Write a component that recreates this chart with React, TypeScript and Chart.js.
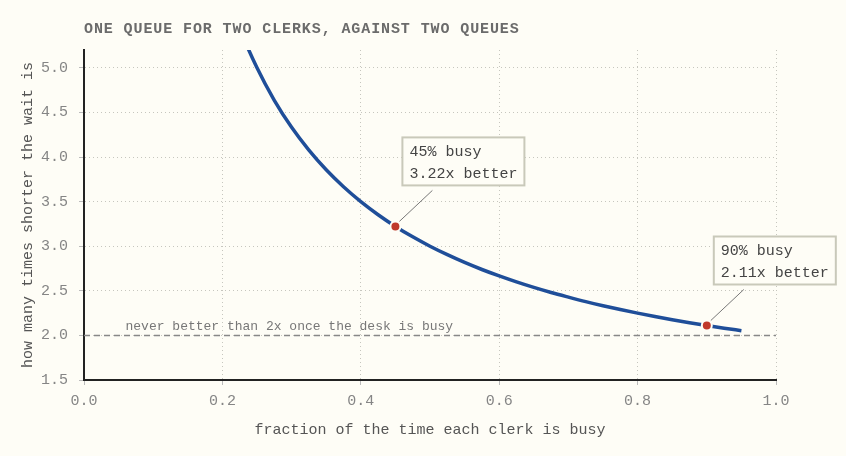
import { useEffect, useRef } from "react";
import { Chart, registerables } from "chart.js";

Chart.register(...registerables);

// fraction of time each clerk is busy, and how many times shorter the wait is
const busy = [
  0.2, 0.225, 0.25, 0.275, 0.3, 0.325, 0.35, 0.375, 0.4, 0.425, 0.45, 0.475,
  0.5, 0.525, 0.55, 0.575, 0.6, 0.625, 0.65, 0.675, 0.7, 0.725, 0.75, 0.775,
  0.8, 0.825, 0.85, 0.875, 0.9, 0.925, 0.95,
];
const timesShorter = [
  6.0, 5.444, 5.0, 4.636, 4.333, 4.077, 3.857, 3.667, 3.5, 3.353, 3.222,
  3.105, 3.0, 2.905, 2.818, 2.739, 2.667, 2.6, 2.538, 2.481, 2.429, 2.379,
  2.333, 2.29, 2.25, 2.212, 2.176, 2.143, 2.111, 2.081, 2.053,
];

const markBusy = [0.45, 0.9];
const markRatio = [3.222, 2.111];
const markLabels = [
  ["45% busy", "3.22x better"],
  ["90% busy", "2.11x better"],
];

const floorSpan = [0, 1];
const floorLevel = 2.0;
const floorLabel = "never better than 2x once the desk is busy";
const floorLabelAt = 0.06;

const chartTitle = "ONE QUEUE FOR TWO CLERKS, AGAINST TWO QUEUES";
const xTitle = "fraction of the time each clerk is busy";
const yTitle = "how many times shorter the wait is";

const MONO = "'Liberation Mono', 'DejaVu Sans Mono', monospace";
const BG = "#fefdf6";

document.body.style.margin = "0";
document.body.style.background = BG;

const extrasPlugin = {
  id: "extras",
  afterDatasetsDraw(chart: Chart) {
    const { ctx, scales } = chart;
    const xs = scales.x;
    const ys = scales.y;
    ctx.save();

    // title
    ctx.font = `bold 15px ${MONO}`;
    ctx.fillStyle = "#6b6b6b";
    ctx.textAlign = "left";
    ctx.textBaseline = "alphabetic";
    (ctx as any).letterSpacing = "0.9px";
    ctx.fillText(chartTitle, chart.chartArea.left, 33);
    (ctx as any).letterSpacing = "0px";

    // floor label
    ctx.font = `13px ${MONO}`;
    ctx.fillStyle = "#777";
    ctx.fillText(
      floorLabel,
      xs.getPixelForValue(floorLabelAt),
      ys.getPixelForValue(floorLevel) - 5
    );

    // callouts
    markBusy.forEach((b, i) => {
      const px = xs.getPixelForValue(b);
      const py = ys.getPixelForValue(markRatio[i]);
      ctx.font = `15px ${MONO}`;
      const lines = markLabels[i];
      const w = Math.max(...lines.map((l) => ctx.measureText(l).width)) + 14;
      const h = 48;
      const bx = px + 7;
      const by = py - 89;

      ctx.strokeStyle = "#777";
      ctx.lineWidth = 1;
      ctx.beginPath();
      ctx.moveTo(px + 4, py - 5);
      ctx.lineTo(bx + 30, by + h + 5);
      ctx.stroke();

      ctx.fillStyle = BG;
      ctx.fillRect(bx, by, w, h);
      ctx.strokeStyle = "#c9c9ba";
      ctx.lineWidth = 2;
      ctx.strokeRect(bx, by, w, h);

      ctx.fillStyle = "#444";
      ctx.textBaseline = "middle";
      lines.forEach((l, j) => ctx.fillText(l, bx + 7, by + 15 + j * 22));
      ctx.textBaseline = "alphabetic";
    });
    ctx.restore();
  },
};

const QueueChart = () => {
  const canvasRef = useRef<HTMLCanvasElement | null>(null);
  const chartRef = useRef<Chart | null>(null);

  useEffect(() => {
    if (!canvasRef.current) return;
    if (chartRef.current) chartRef.current.destroy();
    const ctx = canvasRef.current.getContext("2d");
    if (!ctx) return;

    chartRef.current = new Chart(ctx, {
      type: "line",
      data: {
        datasets: [
          {
            type: "scatter",
            data: markBusy.map((b, i) => ({ x: b, y: markRatio[i] })),
            backgroundColor: "#c0392b",
            borderColor: BG,
            borderWidth: 2,
            pointRadius: 5,
          },
          {
            data: busy.map((b, i) => ({ x: b, y: timesShorter[i] })),
            borderColor: "#1f4e99",
            borderWidth: 3.5,
            pointRadius: 0,
            cubicInterpolationMode: "monotone",
            fill: false,
          },
          {
            data: floorSpan.map((b) => ({ x: b, y: floorLevel })),
            borderColor: "#888",
            borderWidth: 1.5,
            borderDash: [6, 4],
            pointRadius: 0,
            fill: false,
          },
        ],
      },
      options: {
        animation: false,
        responsive: false,
        layout: { padding: { top: 50, right: 70, left: 0, bottom: 0 } },
        plugins: {
          legend: { display: false },
          tooltip: { enabled: false },
          title: { display: false },
        },
        scales: {
          x: {
            type: "linear",
            min: 0,
            max: 1,
            afterFit: (s: any) => {
              s.height = 76;
            },
            ticks: {
              stepSize: 0.2,
              padding: 7,
              color: "#858585",
              font: { family: MONO, size: 15 },
              callback: (v: any) => Number(v).toFixed(1),
            },
            grid: {
              color: "#c6c6be",
              tickColor: "#bbb",
              tickLength: 5,
            },
            border: { display: true, color: "#222", width: 2, dash: [1, 3] },
            title: {
              display: true,
              text: xTitle,
              color: "#555",
              font: { family: MONO, size: 15 },
              padding: { top: 0, bottom: 17 },
            },
          },
          y: {
            type: "linear",
            min: 1.5,
            max: 5.2,
            afterFit: (s: any) => {
              s.width = 84;
            },
            ticks: {
              stepSize: 0.5,
              includeBounds: false,
              padding: 11,
              color: "#858585",
              font: { family: MONO, size: 15 },
              callback: (v: any) => Number(v).toFixed(1),
            },
            grid: {
              color: "#c6c6be",
              tickColor: "#bbb",
              tickLength: 5,
            },
            border: { display: true, color: "#222", width: 2, dash: [1, 3] },
            title: {
              display: true,
              text: yTitle,
              color: "#555",
              font: { family: MONO, size: 15 },
              padding: { top: 19, bottom: 0 },
            },
          },
        },
      },
      plugins: [extrasPlugin],
    } as any);

    return () => {
      if (chartRef.current) {
        chartRef.current.destroy();
        chartRef.current = null;
      }
    };
  }, []);

  return (
    <div style={{ width: 846, height: 456, background: BG }}>
      <canvas ref={canvasRef} width={846} height={456}></canvas>
    </div>
  );
};

export default function App() {
  return <QueueChart />;
}
